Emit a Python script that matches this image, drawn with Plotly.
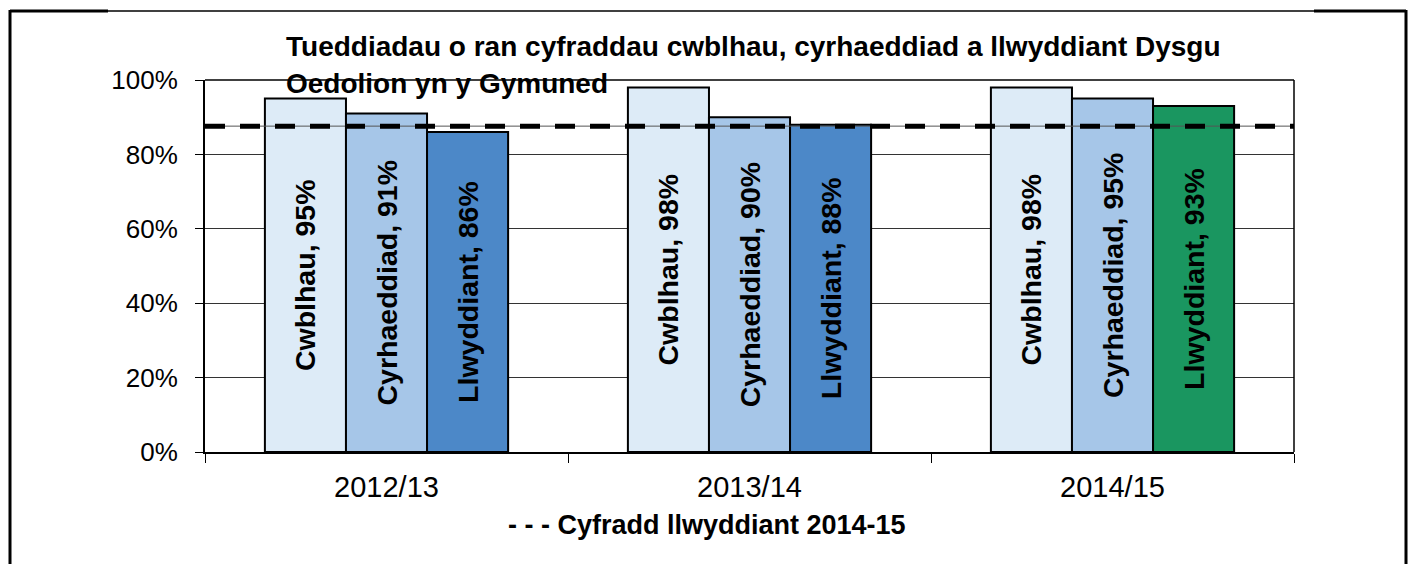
import plotly.graph_objects as go

years = ["2012/13", "2013/14", "2014/15"]
series_names = ["Cwblhau", "Cyrhaeddiad", "Llwyddiant"]
cwblhau = [95, 98, 98]
cyrhaeddiad = [91, 90, 95]
llwyddiant = [86, 88, 93]
benchmark = 87.6
y_ticks = [0, 20, 40, 60, 80, 100]

colors = {
    "Cwblhau": ["#DDEBF7"] * 3,
    "Cyrhaeddiad": ["#A6C6E8"] * 3,
    "Llwyddiant": ["#4C88C8", "#4C88C8", "#1A9660"],
}
values = {"Cwblhau": cwblhau, "Cyrhaeddiad": cyrhaeddiad, "Llwyddiant": llwyddiant}

FONT = "Liberation Sans, Arial, sans-serif"
OFF = 8  # page body margin
W, H = 1416 - 2 * OFF, 564 - OFF
# plot area in screenshot pixels
L, R, T, B = 205, 1294, 80, 452

def px(x):
    return (x - L) / (R - L)

def py(y):
    return (B - y) / (B - T)

fig = go.Figure()
for name in series_names:
    vals = values[name]
    fig.add_trace(go.Bar(
        x=years, y=vals, name=name,
        marker=dict(color=colors[name], line=dict(color="black", width=2)),
        text=[f"<b>{name}, {v}%</b>" for v in vals],
        textposition="inside", insidetextanchor="middle", textangle=-90,
        textfont=dict(family=FONT, size=28.5, color="black"),
        constraintext="none",
        showlegend=False,
    ))

BL, BR = 10, 1406  # outer border x positions (screen px), kept inside the figure

shapes = [
    dict(type="line", xref="paper", yref="y", x0=0, x1=1, y0=benchmark, y1=benchmark,
         line=dict(color="#555555", width=1)),
    dict(type="line", xref="paper", yref="y", x0=0, x1=1, y0=benchmark, y1=benchmark,
         line=dict(color="black", width=5, dash="20px,15px")),
    dict(type="line", xref="paper", yref="paper", x0=1, x1=1, y0=0, y1=1,
         line=dict(color="black", width=1.5)),
    dict(type="line", xref="paper", yref="paper", x0=0, x1=1, y0=1, y1=1,
         line=dict(color="black", width=1.5)),
    dict(type="line", xref="paper", yref="paper", x0=px(BL), x1=px(BR), y0=py(11), y1=py(11),
         line=dict(color="black", width=1.5)),
    dict(type="line", xref="paper", yref="paper", x0=px(BL), x1=px(108), y0=py(11), y1=py(11),
         line=dict(color="black", width=3)),
    dict(type="line", xref="paper", yref="paper", x0=px(1314), x1=px(BR), y0=py(11), y1=py(11),
         line=dict(color="black", width=3)),
    dict(type="line", xref="paper", yref="paper", x0=px(BL), x1=px(BL), y0=py(10), y1=py(575),
         line=dict(color="black", width=3)),
    dict(type="line", xref="paper", yref="paper", x0=px(BR), x1=px(BR), y0=py(10), y1=py(575),
         line=dict(color="black", width=3)),
]

annotations = [
    dict(text="<b>Tueddiadau o ran cyfraddau cwblhau, cyrhaeddiad a llwyddiant Dysgu</b>",
         xref="paper", yref="paper", x=px(284), y=py(46), xanchor="left", yanchor="middle",
         showarrow=False, font=dict(family=FONT, size=28, color="black")),
    dict(text="<b>Oedolion yn y Gymuned</b>",
         xref="paper", yref="paper", x=px(284), y=py(83), xanchor="left", yanchor="middle",
         showarrow=False, font=dict(family=FONT, size=28, color="black")),
    dict(text="<b>- - - Cyfradd llwyddiant 2014-15</b>",
         xref="paper", yref="paper", x=px(707), y=py(525), xanchor="center", yanchor="middle",
         showarrow=False, font=dict(family=FONT, size=27, color="black")),
]

fig.update_layout(
    width=W, height=H,
    margin=dict(l=L - OFF, r=W - (R - OFF), t=T - OFF, b=H - (B - OFF), pad=0),
    paper_bgcolor="white", plot_bgcolor="white",
    barmode="group", bargap=0.33, bargroupgap=0,
    font=dict(family=FONT, size=26, color="black"),
    shapes=shapes, annotations=annotations,
    showlegend=False,
)
fig.update_xaxes(
    showline=True, linecolor="black", linewidth=2,
    ticks="outside", tickson="boundaries", ticklen=9, tickcolor="black", tickwidth=1,
    tickfont=dict(family=FONT, size=29, color="black"),
    showgrid=False, ticklabelstandoff=8,
)
fig.update_yaxes(
    range=[0, 100], tickvals=y_ticks, ticktext=[f"{v}%" for v in y_ticks],
    showline=True, linecolor="black", linewidth=2,
    ticks="outside", ticklen=8, tickcolor="black", tickwidth=1,
    tickfont=dict(family=FONT, size=26, color="black"),
    showgrid=True, gridcolor="#333333", gridwidth=1,
    zeroline=False, ticklabelstandoff=12,
)

fig.write_html("out.html")
